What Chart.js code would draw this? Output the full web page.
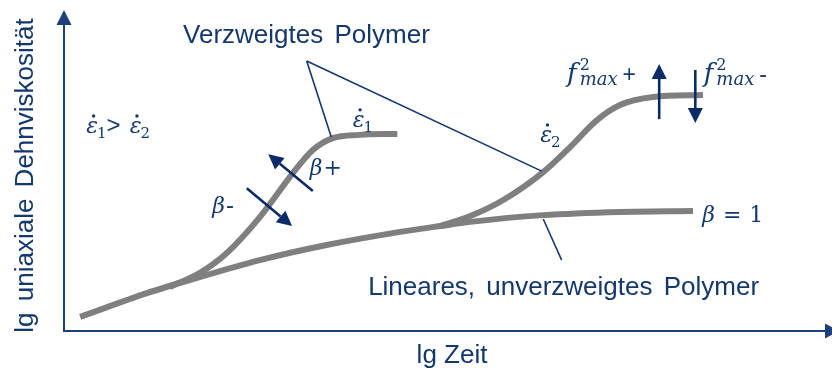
<!DOCTYPE html>
<html>
<head>
<meta charset="utf-8">
<script src="https://cdn.jsdelivr.net/npm/chart.js@4/dist/chart.umd.min.js"></script>
<style>
  body { margin: 0; background: #ffffff; }
  #wrap { width: 832px; height: 370px; }
</style>
</head>
<body>
<div id="wrap"><canvas id="dehnChart"></canvas></div>
<script>
/* ------------------
    Kurven (lg Zeit / lg Dehnviskosität, schematisch 0..10)
-------------------*/
var linX  = [0.21, 1.08, 1.68, 2.55, 3.42, 4.28, 4.90, 5.29, 6.24, 7.24, 8.19];
var linY  = [0.44, 1.18, 1.62, 2.21, 2.68, 3.05, 3.27, 3.40, 3.61, 3.71, 3.74];

var eps1X = [1.38, 1.77, 2.12, 2.55, 2.98, 3.24, 3.50, 3.85, 4.34];
var eps1Y = [1.37, 1.81, 2.43, 3.55, 4.92, 5.64, 6.01, 6.11, 6.14];

var eps2X = [4.90, 5.29, 5.72, 6.24, 6.59, 6.94, 7.24, 7.67, 8.32];
var eps2Y = [3.27, 3.58, 4.08, 4.95, 5.73, 6.57, 7.04, 7.29, 7.35];

var xTitle = 'lg Zeit';
var yTitle = 'lg uniaxiale Dehnviskosität';

var blue = '#14386e';
var arrowBlue = '#0b2b68';
var grey = '#7f7f7f';

function toPoints(xs, ys) {
    return xs.map(function (x, i) { return { x: x, y: ys[i] }; });
}

function curve(label, xs, ys) {
    return {
        label: label,
        data: toPoints(xs, ys),
        borderColor: grey,
        borderWidth: 6,
        pointRadius: 0,
        cubicInterpolationMode: 'monotone',
        fill: false
    };
}

/* ------------------
    Beschriftung: Pfeile, Hinweislinien, Formeln
-------------------*/
var arrows = [
    [3.24, 4.36, 2.66, 5.51],   // beta+
    [2.38, 4.45, 2.97, 3.27],   // beta-
    [7.75, 6.60, 7.75, 8.32],   // f2max +
    [8.22, 8.13, 8.22, 6.48]    // f2max -
];
var leaders = [
    [3.16, 8.41, 3.48, 6.04],
    [3.16, 8.41, 6.22, 4.98],
    [6.24, 3.49, 6.48, 2.21]
];

var serifI = function (s) { return 'italic ' + s + 'px "DejaVu Serif"'; };
var serif  = function (s) { return s + 'px "DejaVu Serif"'; };
var sans   = function (s) { return s + 'px "Liberation Sans"'; };

function eps(n) {
    return [
        { t: '\u03B5', f: serifI(22), dot: true, gap: -1 },
        { t: n, f: serif(15), dy: 5 }
    ];
}
function fmax(sign) {
    return [
        { t: 'f', f: serifI(26), gap: 3 },
        { t: '2', f: serif(16), dy: -12, stay: true },
        { t: 'max', f: serifI(18), dy: 3, gap: 5 },
        { t: sign, f: sans(23) }
    ];
}

var formulas = [
    { x: 0.29, y: 6.17, runs: eps('1').concat([{ t: '>', f: sans(24), gap: 9 }], eps('2')) },
    { x: 3.76, y: 6.36, runs: eps('1') },
    { x: 6.20, y: 5.89, runs: eps('2') },
    { x: 3.20, y: 4.86, runs: [{ t: '\u03B2', f: serifI(22), gap: 1 }, { t: '+', f: serif(22) }] },
    { x: 1.93, y: 3.68, runs: [{ t: '\u03B2', f: serifI(22), gap: 1 }, { t: '-', f: sans(24) }] },
    { x: 8.31, y: 3.40, runs: [{ t: '\u03B2', f: serifI(22), gap: 8 }, { t: '=', f: serif(22), gap: 8 }, { t: '1', f: serif(22) }] },
    { x: 6.55, y: 7.77, runs: fmax('+') },
    { x: 8.33, y: 7.77, runs: fmax('-') }
];

var labels = [
    { x: 1.55, y: 8.97, text: 'Verzweigtes Polymer' },
    { x: 3.96, y: 1.12, text: 'Lineares, unverzweigtes Polymer' }
];

function drawRuns(ctx, x, y, runs) {
    runs.forEach(function (r) {
        ctx.font = r.f;
        var w = ctx.measureText(r.t).width;
        ctx.fillText(r.t, x, y + (r.dy || 0));
        if (r.dot) {
            ctx.beginPath();
            ctx.arc(x + w * 0.62, y - 17, 1.7, 0, Math.PI * 2);
            ctx.fill();
        }
        if (!r.stay) x += w + (r.gap || 0);
    });
}

function drawArrow(ctx, x0, y0, x1, y1, len, half) {
    var ang = Math.atan2(y1 - y0, x1 - x0);
    var bx = x1 - Math.cos(ang) * len, by = y1 - Math.sin(ang) * len;
    ctx.beginPath();
    ctx.moveTo(x0, y0);
    ctx.lineTo(bx, by);
    ctx.stroke();
    ctx.beginPath();
    ctx.moveTo(x1, y1);
    ctx.lineTo(bx + Math.sin(ang) * half, by - Math.cos(ang) * half);
    ctx.lineTo(bx - Math.sin(ang) * half, by + Math.cos(ang) * half);
    ctx.closePath();
    ctx.fill();
}

var diagramPlugin = {
    id: 'diagram',
    afterDatasetsDraw: function (chart) {
        var ctx = chart.ctx, a = chart.chartArea;
        var sx = chart.scales.x, sy = chart.scales.y;
        var px = function (v) { return sx.getPixelForValue(v); };
        var py = function (v) { return sy.getPixelForValue(v); };

        ctx.save();

        // Achsen mit Pfeilspitzen
        ctx.strokeStyle = '#1d3f7b';
        ctx.fillStyle = '#1d3f7b';
        ctx.lineWidth = 2;
        drawArrow(ctx, a.left, a.bottom + 1, a.left, a.top, 15, 7.5);
        drawArrow(ctx, a.left - 1, a.bottom, a.right + 7, a.bottom, 14, 7.5);

        // Hinweislinien
        ctx.strokeStyle = blue;
        ctx.lineWidth = 1.6;
        leaders.forEach(function (l) {
            ctx.beginPath();
            ctx.moveTo(px(l[0]), py(l[1]));
            ctx.lineTo(px(l[2]), py(l[3]));
            ctx.stroke();
        });

        // Pfeile
        ctx.strokeStyle = arrowBlue;
        ctx.fillStyle = arrowBlue;
        ctx.lineWidth = 2.6;
        arrows.forEach(function (r) {
            drawArrow(ctx, px(r[0]), py(r[1]), px(r[2]), py(r[3]), 15, 7.5);
        });

        // Texte
        ctx.fillStyle = blue;
        ctx.textBaseline = 'alphabetic';
        ctx.textAlign = 'left';
        ctx.font = sans(26);
        ctx.wordSpacing = '4px';
        labels.forEach(function (l) {
            ctx.fillText(l.text, px(l.x), py(l.y));
        });
        ctx.wordSpacing = '0px';
        formulas.forEach(function (m) {
            drawRuns(ctx, px(m.x), py(m.y), m.runs);
        });

        // Achsentitel
        ctx.font = sans(26);
        ctx.textAlign = 'center';
        ctx.fillText(xTitle, (a.left + a.right) / 2 + 4, a.bottom + 32);
        ctx.wordSpacing = '4px';
        ctx.translate(a.left - 31, (a.top + a.bottom) / 2 + 5);
        ctx.rotate(-Math.PI / 2);
        ctx.fillText(yTitle, 0, 0);

        ctx.restore();
    }
};

var dehnChart = new Chart(document.getElementById('dehnChart'), {
    type: 'line',
    data: {
        datasets: [
            curve('Lineares, unverzweigtes Polymer', linX, linY),
            curve('Verzweigtes Polymer, eps1', eps1X, eps1Y),
            curve('Verzweigtes Polymer, eps2', eps2X, eps2Y)
        ]
    },
    options: {
        responsive: true,
        maintainAspectRatio: false,
        animation: false,
        layout: { padding: { left: 64, top: 10, right: 0, bottom: 39 } },
        scales: {
            x: { type: 'linear', min: 0, max: 10, display: false },
            y: { type: 'linear', min: 0, max: 10, display: false }
        },
        plugins: {
            legend: { display: false },
            tooltip: { enabled: false }
        }
    },
    plugins: [diagramPlugin]
});
</script>
</body>
</html>
